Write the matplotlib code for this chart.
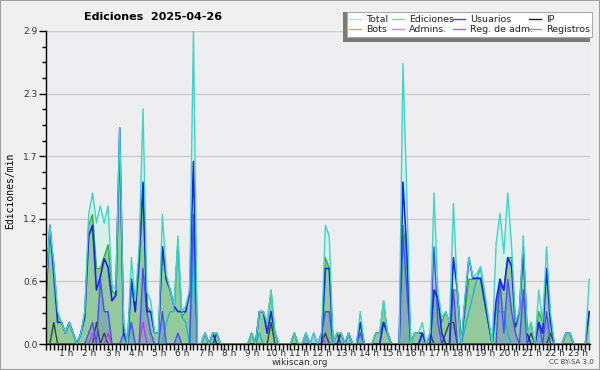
import numpy as np
import matplotlib
matplotlib.use("Agg")
import matplotlib.pyplot as plt
from matplotlib.patches import Rectangle
from matplotlib.lines import Line2D
from matplotlib.transforms import ScaledTranslation

# -----------------------------
# DATA (edits per minute, 10-minute buckets from 00:00)
# -----------------------------
total = [
    0.5, 1.1, 0.75, 0.3, 0.2, 0.1, 0.2, 0.1, 0, 0.1,
    0.3, 1.2, 1.4, 1.12, 1.28, 1.12, 1.28, 0.55, 0.5, 2.0,
    0.2, 0, 0.8, 0.4, 0.9, 2.18, 0.48, 0.4, 0.1, 0.1,
    1.2, 0.65, 0.5, 0.35, 1.0, 0.3, 0.35, 0.5, 2.9, 0,
    0, 0.1, 0, 0.1, 0.1, 0, 0, 0, 0, 0,
    0, 0, 0, 0.1, 0, 0.3, 0.3, 0.2, 0.5, 0.1,
    0, 0, 0, 0, 0.1, 0, 0, 0.1, 0, 0.1,
    0, 0.1, 1.1, 1.0, 0, 0.1, 0.1, 0, 0.1, 0,
    0, 0.3, 0, 0, 0, 0.1, 0.1, 0.4, 0.1, 0,
    0, 0, 2.6, 1.36, 0, 0.1, 0.1, 0.2, 0, 0.1,
    1.4, 0.48, 0.25, 0.3, 0.2, 1.3, 0.5, 0, 0.45, 0.8,
    0.62, 0.65, 0.72, 0.5, 0.25, 0, 0.93, 1.21, 0.84, 1.4,
    0.9, 0.2, 0.3, 1.0, 0.1, 0.2, 0, 0.5, 0.2, 0.9,
    0.3, 0, 0, 0, 0.1, 0.1, 0, 0, 0, 0,
    0.6,
]
ediciones = [
    0.5, 1.05, 0.75, 0.28, 0.2, 0.1, 0.2, 0.1, 0, 0.1,
    0.3, 1.1, 1.2, 0.7, 0.7, 0.81, 0.92, 0.5, 0.45, 1.85,
    0.2, 0, 0.6, 0.3, 0.7, 1.37, 0.35, 0.3, 0.1, 0.1,
    0.9, 0.6, 0.5, 0.35, 0.95, 0.25, 0.3, 0.45, 1.1, 0,
    0, 0.1, 0, 0.1, 0.1, 0, 0, 0, 0, 0,
    0, 0, 0, 0.1, 0, 0.3, 0.3, 0.2, 0.5, 0.1,
    0, 0, 0, 0, 0.1, 0, 0, 0.1, 0, 0,
    0, 0, 0.8, 0.7, 0, 0.1, 0.1, 0, 0.1, 0,
    0, 0.2, 0, 0, 0, 0.1, 0.1, 0.4, 0.1, 0,
    0, 0, 1.1, 0.8, 0, 0.1, 0.1, 0.1, 0, 0.1,
    0.5, 0.4, 0.2, 0.3, 0.2, 0.5, 0.5, 0, 0.3, 0.6,
    0.6, 0.6, 0.6, 0.45, 0.2, 0, 0.3, 0.55, 0.5, 0.8,
    0.8, 0.2, 0.3, 0.85, 0.1, 0.2, 0, 0.3, 0.2, 0.7,
    0.25, 0, 0, 0, 0.1, 0.1, 0, 0, 0, 0,
    0.3,
]
usuarios = [
    0.44, 1.1, 0.65, 0.2, 0.2, 0.1, 0.2, 0.1, 0, 0.1,
    0.25, 1.0, 1.1, 0.5, 0.62, 0.79, 0.71, 0.4, 0.45, 2.0,
    0.1, 0, 0.6, 0.3, 0.8, 1.5, 0.3, 0.3, 0.1, 0.1,
    0.9, 0.6, 0.5, 0.35, 0.3, 0.3, 0.3, 0.48, 1.69, 0,
    0, 0.1, 0, 0.1, 0, 0, 0, 0, 0, 0,
    0, 0, 0, 0, 0, 0.3, 0.3, 0.1, 0.3, 0.1,
    0, 0, 0, 0, 0, 0, 0, 0, 0, 0,
    0, 0, 0.7, 0.7, 0, 0, 0.1, 0, 0.1, 0,
    0, 0.2, 0, 0, 0, 0, 0, 0.2, 0.1, 0,
    0, 0, 1.5, 0.84, 0, 0, 0, 0.1, 0, 0,
    0.5, 0.43, 0.1, 0, 0, 0.8, 0.5, 0, 0.4, 0.8,
    0.61, 0.61, 0.61, 0.4, 0.2, 0, 0.4, 0.6, 0.5, 0.8,
    0.72, 0.16, 0.3, 0.9, 0.1, 0, 0, 0.2, 0.1, 0.7,
    0.2, 0, 0, 0, 0.1, 0.1, 0, 0, 0, 0,
    0.3,
]
ip = [
    0, 0, 0.2, 0, 0, 0, 0, 0, 0, 0,
    0, 0, 0, 0.2, 0, 0.1, 0, 0, 0, 0,
    0, 0, 0, 0, 0, 0, 0, 0, 0, 0,
    0, 0, 0, 0, 0, 0, 0, 0, 0, 0,
    0, 0, 0, 0, 0.1, 0, 0, 0, 0, 0,
    0, 0, 0, 0.1, 0, 0, 0, 0, 0.2, 0,
    0, 0, 0, 0, 0.1, 0, 0, 0, 0, 0,
    0, 0, 0.1, 0, 0, 0.1, 0, 0, 0, 0,
    0, 0, 0, 0, 0, 0.1, 0.1, 0.2, 0.1, 0,
    0, 0, 0, 0, 0, 0.1, 0.1, 0.1, 0, 0.1,
    0, 0, 0, 0.1, 0.2, 0.2, 0, 0, 0, 0,
    0, 0, 0, 0, 0, 0, 0, 0, 0, 0,
    0, 0, 0, 0, 0, 0.1, 0, 0, 0, 0,
    0.1, 0, 0, 0, 0, 0, 0, 0, 0, 0,
    0,
]
registros = [
    0, 0, 0, 0, 0, 0, 0, 0, 0, 0,
    0, 0.1, 0.2, 0, 0.6, 0.3, 0.3, 0, 0, 0,
    0.1, 0, 0.2, 0, 0, 0.7, 0.3, 0.1, 0, 0,
    0.3, 0, 0, 0, 0.1, 0, 0, 0, 1.2, 0,
    0, 0, 0, 0, 0, 0, 0, 0, 0, 0,
    0, 0, 0, 0, 0, 0, 0, 0, 0, 0,
    0, 0, 0, 0, 0, 0, 0, 0.1, 0, 0.1,
    0, 0.1, 0.3, 0.3, 0, 0, 0, 0, 0, 0,
    0, 0.1, 0, 0, 0, 0, 0, 0, 0, 0,
    0, 0, 1.0, 0.5, 0, 0, 0, 0.1, 0, 0,
    0.9, 0.2, 0, 0, 0, 0.5, 0, 0, 0, 0,
    0, 0, 0, 0, 0, 0, 0, 0.6, 0.1, 0.6,
    0.3, 0.1, 0, 0.5, 0, 0, 0, 0.2, 0, 0.3,
    0, 0, 0, 0, 0, 0, 0, 0, 0, 0,
    0,
]
admins = [
    0, 0, 0, 0, 0, 0, 0, 0, 0, 0,
    0, 0, 0, 0, 0, 0, 0, 0, 0, 0,
    0, 0, 0, 0, 0, 0, 0, 0, 0, 0,
    0, 0.2, 0.3, 0.3, 0.93, 0.25, 0.2, 0, 0.8, 0,
    0, 0, 0, 0, 0, 0, 0, 0, 0, 0,
    0, 0, 0, 0, 0, 0.1, 0, 0, 0, 0,
    0, 0, 0, 0, 0, 0, 0, 0.1, 0, 0,
    0, 0, 0, 0, 0, 0, 0, 0, 0, 0,
    0, 0.2, 0, 0, 0, 0, 0, 0, 0, 0,
    0, 0, 0, 0, 0, 0, 0, 0, 0, 0,
    0, 0, 0, 0, 0, 0, 0, 0, 0.15, 0.3,
    0.45, 0.6, 0.7, 0.45, 0.2, 0, 0.3, 0.3, 0.3, 0.1,
    0, 0, 0, 0, 0, 0, 0, 0, 0, 0,
    0, 0, 0, 0, 0, 0, 0, 0, 0, 0,
    0,
]
reg_adm = [0] * 141
reg_adm[12] = 0.1
reg_adm[16] = 0.1
reg_adm[25] = 0.2
reg_adm[71] = 0.1
bots = [0] * 141

hours = list(range(1, 24))
hour_labels = [f"{h} h" for h in hours]
y_ticks = [0, 0.58, 1.16, 1.74, 2.32, 2.9]
y_labels = ["0.0", "0.6", "1.2", "1.7", "2.3", "2.9"]

legend_names = ["Total", "Ediciones", "Usuarios", "IP",
                "Bots", "Admins.", "Reg. de adm.", "Registros"]
legend_colors = ["#a8e6e0", "#8ed08e", "#4848e0", "#222222",
                 "#ffa040", "#50c8e0", "#d050e0", "#8c8cf0"]

# -----------------------------
# PLOT
# -----------------------------
W, H = 600, 370
fig = plt.figure(figsize=(W / 100, H / 100), dpi=100, facecolor="#f0f0f0")
ax = fig.add_axes([46 / W, 1 - 344 / H, 544 / W, 313 / H], facecolor="#eeeef0")

x = np.arange(len(total))

ax.fill_between(x, total, color="#d6f1ec", lw=0, zorder=1)
ax.fill_between(x, ediciones, color="#93c99b", lw=0, zorder=1.2)
ax.fill_between(x, registros, color="#5a70d8", alpha=0.3, lw=0, zorder=1.3)

ax.plot(x, bots, color="#ff9933", lw=1, zorder=1.5)
ax.plot(x, ediciones, color="#3aaa3a", lw=1, zorder=2)
ax.plot(x, ip, color="#2d4a36", lw=1, zorder=2.1)
ax.plot(x, reg_adm, color="#cc33ee", lw=1, zorder=2.2)
ax.plot(x, admins, color="#1ab8d8", lw=1, zorder=2.3)
ax.plot(x, registros, color="#4a4aff", lw=1, zorder=2.4)
ax.plot(x, usuarios, color="#1428e8", lw=1.2, zorder=2.5)
ax.plot(x, total, color="#3dd6c6", lw=1, zorder=2.6)

ax.set_xlim(0, 140.2)
ax.set_ylim(0, 2.9)

for s in ["top", "right"]:
    ax.spines[s].set_visible(False)
for s in ["left", "bottom"]:
    ax.spines[s].set_color("black")
    ax.spines[s].set_linewidth(1)
    ax.spines[s].set_zorder(5)

ax.set_yticks(y_ticks)
ax.set_yticklabels(y_labels)
ax.set_yticks(np.arange(0, 2.9, 0.145), minor=True)
ax.yaxis.grid(True, which="major", color="#cccccc", lw=1)
ax.set_axisbelow(True)

ax.set_xticks([6 * h for h in hours])
ax.set_xticklabels(hour_labels)
ax.set_xticks(x, minor=True)
ax.tick_params(axis="both", which="both", direction="out", color="black",
               width=1, labelsize=6.5, labelcolor="#333333")
ax.tick_params(axis="x", which="both", length=4, pad=-0.5)
ax.tick_params(axis="y", which="major", length=5, pad=1)
ax.tick_params(axis="y", which="minor", length=3)
shift = ScaledTranslation(-3 / 100, 0, fig.dpi_scale_trans)
for lab in ax.get_xticklabels():
    lab.set_transform(lab.get_transform() + shift)

# texts
fig.text(153 / W, 1 - 17 / H, "Ediciones  2025-04-26", fontsize=8,
         fontweight="bold", ha="center", va="center")
fig.text(10 / W, 1 - 191 / H, "Ediciones/min", fontsize=7, rotation=90,
         family="DejaVu Sans Mono", ha="center", va="center")
fig.text(300 / W, 1 - 362.5 / H, "wikiscan.org", fontsize=6.5, color="#333333",
         ha="center", va="center")
fig.text(571 / W, 1 - 362.5 / H, "CC BY-SA 3.0", fontsize=5, color="#444444",
         ha="center", va="center")

# legend box with shadow
fig.patches.append(Rectangle((343 / W, 1 - 41.7 / H), 247 / W, 30 / H,
                             transform=fig.transFigure, facecolor="#7a7a7a",
                             edgecolor="none", zorder=10))
fig.patches.append(Rectangle((346.7 / W, 1 - 37.3 / H), 245 / W, 25.6 / H,
                             transform=fig.transFigure, facecolor="white",
                             edgecolor="#aaaaaa", lw=0.8, zorder=11))
col_x = [349, 392, 453, 529]
row_y = [19, 29]
for k, (name, color) in enumerate(zip(legend_names, legend_colors)):
    cx = col_x[k % 4]
    cy = row_y[k // 4]
    fig.lines.append(Line2D([cx / W, (cx + 12) / W], [1 - cy / H, 1 - cy / H],
                            transform=fig.transFigure, color=color, lw=1,
                            zorder=12))
    fig.text((cx + 17) / W, 1 - cy / H, name, fontsize=6.8, color="#222222",
             ha="left", va="center", zorder=12)

# outer frame
fig.patches.append(Rectangle((0, 0), 1, 1, transform=fig.transFigure,
                             facecolor="none", edgecolor="#a0a0a0", lw=1.5,
                             zorder=20))

fig.savefig("out.png", dpi=100, facecolor=fig.get_facecolor())
